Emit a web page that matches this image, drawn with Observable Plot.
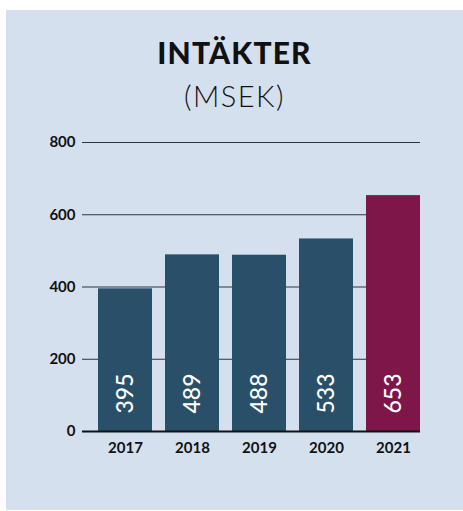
<!DOCTYPE html>
<html>
<head>
<meta charset="utf-8">
<script src="https://cdn.jsdelivr.net/npm/d3@7"></script>
<script src="https://cdn.jsdelivr.net/npm/@observablehq/plot@0.6"></script>
<style>
  html, body { margin: 0; padding: 0; background: #ffffff; }
  body { width: 463px; height: 511px; position: relative; overflow: hidden; font-family: Lato, sans-serif; }
  #panel { position: absolute; left: 6px; top: 10px; width: 457px; height: 500px; background: #d5e0ee; }
  .title { position: absolute; left: 6px; width: 457px; text-align: center; line-height: 1; color: #111; white-space: nowrap; }
  #t1 { top: 37px; font-size: 30px; font-weight: 900; letter-spacing: 1.2px; }
  #t2 { top: 81px; font-size: 29px; font-weight: 300; letter-spacing: 1.5px; }
  #chart { position: absolute; left: 0; top: 120px; }
</style>
</head>
<body>
<div id="panel"></div>
<div class="title" id="t1">INTÄKTER</div>
<div class="title" id="t2">(MSEK)</div>
<div id="chart"></div>
<script>
const years = ["2017", "2018", "2019", "2020", "2021"];
const values = [395, 489, 488, 533, 653];
const highlightYear = "2021";
const yTicks = [0, 200, 400, 600, 800];

const data = years.map((y, i) => ({year: y, value: values[i]}));

const chart = Plot.plot({
  width: 463,
  height: 350,
  marginLeft: 82,
  marginRight: 43,
  marginTop: 22,
  marginBottom: 39,
  style: {background: "transparent", fontFamily: "Lato, sans-serif", color: "#111"},
  x: {domain: years, paddingInner: 0.2, paddingOuter: 0.115, align: 1, label: null},
  y: {domain: [0, 800], label: null},
  marks: [
    Plot.ruleY(yTicks.filter(d => d > 0), {stroke: "#333", strokeWidth: 1}),
    Plot.barY(data, {x: "year", y: "value", fill: d => d.year === highlightYear ? "#7f1649" : "#2a5069"}),
    Plot.ruleY([0], {stroke: "#111", strokeWidth: 2}),
    Plot.text(data, {x: "year", y: 0, text: d => String(d.value), rotate: -90, textAnchor: "start", lineAnchor: "middle", dy: -18, fill: "white", fontSize: 23, fontWeight: 500}),
    Plot.axisY({ticks: yTicks, tickSize: 0, tickPadding: 7, fontSize: 15, fontWeight: "bold", label: null}),
    Plot.axisX({tickSize: 0, tickPadding: 11, fontSize: 15, fontWeight: "bold", label: null})
  ]
});
document.getElementById("chart").appendChild(chart);
</script>
</body>
</html>
